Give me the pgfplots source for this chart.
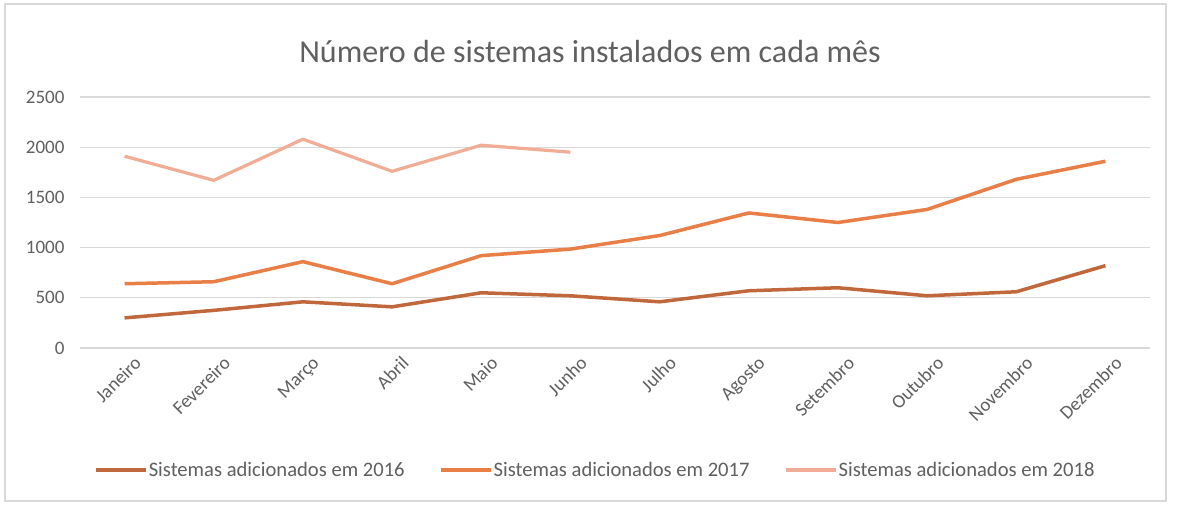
\documentclass[border=0pt]{standalone}
\usepackage{fontspec}
\setmainfont{Carlito}
\usepackage{pgfplots}
\pgfplotsset{compat=1.18}
\definecolor{cA}{RGB}{192,104,60}
\definecolor{cB}{RGB}{233,126,70}
\definecolor{cC}{RGB}{241,172,150}
\definecolor{txt}{RGB}{96,96,96}
\definecolor{grd}{RGB}{217,217,217}
\begin{document}
\begin{tikzpicture}[x=1pt,y=1pt]
\useasboundingbox (0,0) rectangle (1179,504);
\fill[white] (0,0) rectangle (1179,504);
\draw[grd, line width=1.2pt] (5,3) rectangle (1166,500);
\node[text=txt, font=\fontsize{32}{36}\selectfont] at (590,452) {Número de sistemas instalados em cada mês};
\begin{axis}[
  at={(80pt,156pt)}, anchor=south west,
  scale only axis, width=1070pt, height=251pt,
  xmin=-0.5, xmax=11.5, ymin=0, ymax=2500,
  ytick={0,500,1000,1500,2000,2500},
  xtick={0,...,11},
  xticklabels={Janeiro,Fevereiro,Março,Abril,Maio,Junho,Julho,Agosto,Setembro,Outubro,Novembro,Dezembro},
  x tick label style={rotate=45, anchor=north east, font=\fontsize{19}{21}\selectfont, text=txt, inner sep=1pt, yshift=-10pt, xshift=2pt},
  y tick label style={font=\fontsize{19}{21}\selectfont, text=txt, xshift=-12pt},
  /pgf/number format/assume math mode=true,
  /pgf/number format/1000 sep={},
  ymajorgrids, grid style={grd, line width=1.2pt},
  axis line style={draw=none},
  major tick length=0pt,
  legend style={at={(0.481,-0.486)}, anchor=center, legend columns=3, draw=none, fill=none,
    font=\fontsize{20.6}{22}\selectfont, text=txt, inner sep=0pt,
    nodes={inner xsep=1pt},
    /tikz/every even column/.append style={column sep=33pt}},
  legend cell align=left,
  legend image code/.code={\draw[#1, line width=4pt] (0pt,0pt) -- (50pt,0pt);},
]
\addplot[cA, line width=3.5pt, line join=round] coordinates {(0,300) (1,375) (2,460) (3,410) (4,550) (5,520) (6,460) (7,570) (8,600) (9,520) (10,560) (11,820)};
\addlegendentry{Sistemas adicionados em 2016}
\addplot[cB, line width=3.5pt, line join=round] coordinates {(0,640) (1,660) (2,860) (3,640) (4,920) (5,985) (6,1120) (7,1345) (8,1250) (9,1380) (10,1680) (11,1860)};
\addlegendentry{Sistemas adicionados em 2017}
\addplot[cC, line width=3.2pt, line join=round] coordinates {(0,1910) (1,1670) (2,2080) (3,1760) (4,2020) (5,1950)};
\addlegendentry{Sistemas adicionados em 2018}
\end{axis}
\end{tikzpicture}
\end{document}
